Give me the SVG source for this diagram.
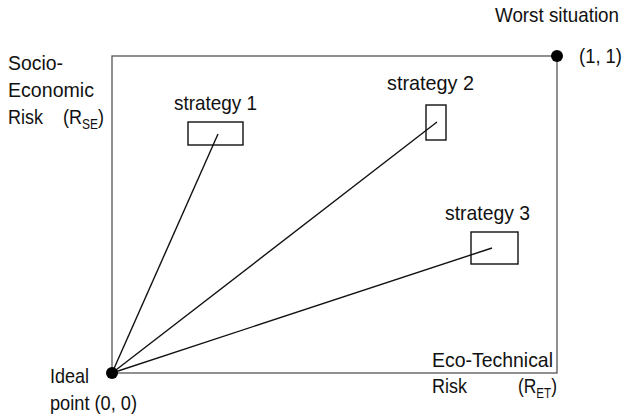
<svg xmlns="http://www.w3.org/2000/svg" width="627" height="417" viewBox="0 0 627 417">
<style>
text{font-family:"Liberation Sans",Arial,sans-serif;font-size:21px;fill:#111}
.sub{font-size:14px}
.frame{fill:none;stroke:#555;stroke-width:1.3}
.box{fill:none;stroke:#111;stroke-width:1.4}
.conn line{stroke:#111;stroke-width:1.4}
.dot{fill:#000}
</style>
<rect width="627" height="417" fill="#fff"/>
<g id="frame">
<rect class="frame" x="112" y="56" width="445" height="317"/>
</g>
<g id="axis-y">
<text x="8" y="70" textLength="55" lengthAdjust="spacingAndGlyphs">Socio-</text>
<text x="8" y="97" textLength="86" lengthAdjust="spacingAndGlyphs">Economic</text>
<text x="8" y="124" textLength="35" lengthAdjust="spacingAndGlyphs">Risk</text>
<text x="63" y="124" textLength="41" lengthAdjust="spacingAndGlyphs">(R<tspan class="sub" dy="5">SE</tspan><tspan dy="-5">)</tspan></text>
</g>
<g id="axis-x">
<text x="432" y="367" textLength="121" lengthAdjust="spacingAndGlyphs">Eco-Technical</text>
<text x="432" y="393" textLength="35" lengthAdjust="spacingAndGlyphs">Risk</text>
<text x="518" y="393" textLength="39" lengthAdjust="spacingAndGlyphs">(R<tspan class="sub" dy="5">ET</tspan><tspan dy="-5">)</tspan></text>
</g>
<g class="conn" id="connectors">
<line x1="112" y1="373" x2="218" y2="134"/>
<line x1="112" y1="373" x2="437" y2="122"/>
<line x1="112" y1="373" x2="492" y2="248"/>
</g>
<g id="ideal">
<circle class="dot" cx="112" cy="373" r="6"/>
<text x="50" y="383" textLength="39" lengthAdjust="spacingAndGlyphs">Ideal</text>
<text x="50" y="410" textLength="87" lengthAdjust="spacingAndGlyphs">point (0, 0)</text>
</g>
<g id="worst">
<circle class="dot" cx="557" cy="56" r="6"/>
<text x="495" y="22" textLength="124" lengthAdjust="spacingAndGlyphs">Worst situation</text>
<text x="579" y="63" textLength="43" lengthAdjust="spacingAndGlyphs">(1, 1)</text>
</g>
<g id="strategy1">
<rect class="box" x="188" y="122" width="55" height="23"/>
<text x="174" y="110" textLength="83" lengthAdjust="spacingAndGlyphs">strategy 1</text>
</g>
<g id="strategy2">
<rect class="box" x="426" y="105" width="20" height="35"/>
<text x="387" y="90" textLength="87" lengthAdjust="spacingAndGlyphs">strategy 2</text>
</g>
<g id="strategy3">
<rect class="box" x="471" y="232" width="47" height="32"/>
<text x="445" y="220" textLength="85" lengthAdjust="spacingAndGlyphs">strategy 3</text>
</g>
</svg>
